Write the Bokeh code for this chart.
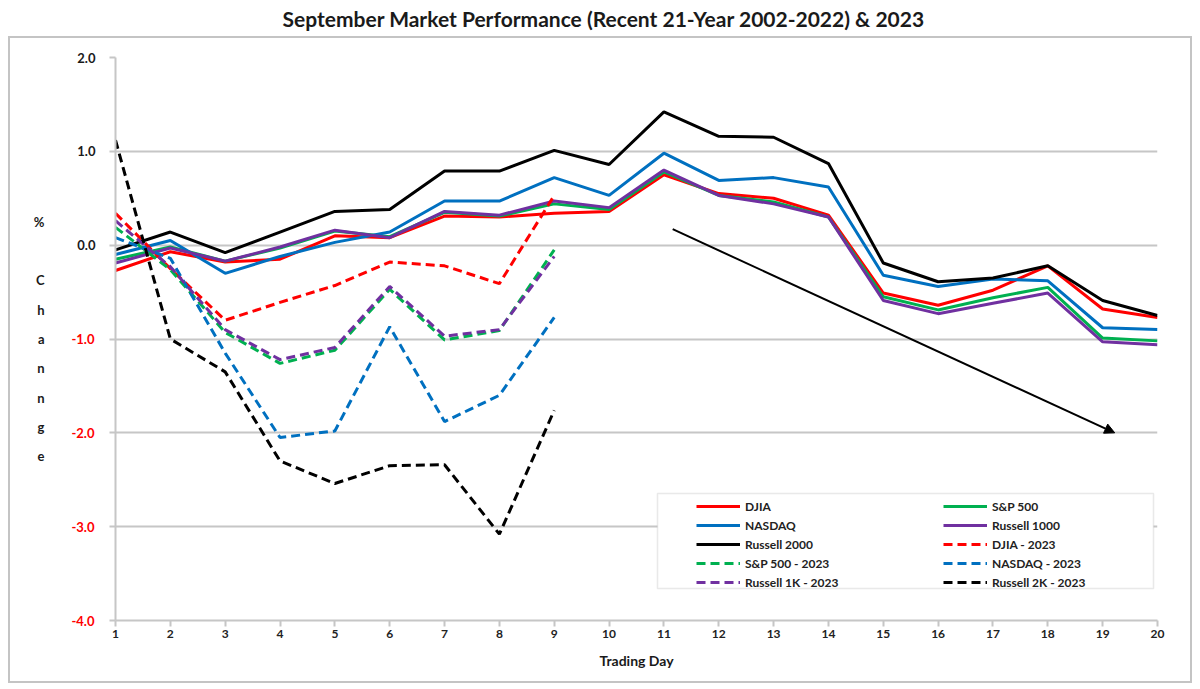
from bokeh.plotting import figure
from bokeh.models import (FixedTicker, LinearAxis, Legend, LegendItem, Arrow, NormalHead,
                          BoxAnnotation, Range1d, NumeralTickFormatter)
from bokeh.embed import file_html
from bokeh.resources import INLINE

# ---------------- data ----------------
title_text = "September Market Performance (Recent 21-Year 2002-2022) & 2023"
x_label = "Trading Day"
y_label = "%\n\nC\nh\na\nn\nn\ng\ne"

days = list(range(1, 21))
days_2023 = list(range(1, 10))

djia = [-0.27, -0.07, -0.18, -0.15, 0.10, 0.08, 0.31, 0.30, 0.34, 0.36,
        0.75, 0.55, 0.50, 0.32, -0.51, -0.64, -0.48, -0.22, -0.68, -0.77]
sp500 = [-0.15, -0.02, -0.17, -0.03, 0.15, 0.09, 0.35, 0.31, 0.44, 0.38,
         0.78, 0.53, 0.46, 0.30, -0.55, -0.69, -0.56, -0.45, -0.99, -1.02]
nasdaq = [-0.10, 0.05, -0.30, -0.12, 0.03, 0.14, 0.47, 0.47, 0.72, 0.53,
          0.98, 0.69, 0.72, 0.62, -0.32, -0.44, -0.36, -0.38, -0.88, -0.90]
russell1000 = [-0.19, -0.03, -0.17, -0.02, 0.16, 0.08, 0.36, 0.32, 0.47, 0.40,
               0.80, 0.53, 0.44, 0.30, -0.59, -0.73, -0.62, -0.51, -1.03, -1.06]
russell2000 = [-0.05, 0.14, -0.08, 0.14, 0.36, 0.38, 0.79, 0.79, 1.01, 0.86,
               1.42, 1.16, 1.15, 0.87, -0.19, -0.39, -0.35, -0.22, -0.59, -0.75]

djia_2023 = [0.34, -0.25, -0.80, -0.61, -0.43, -0.18, -0.22, -0.41, 0.53]
sp500_2023 = [0.19, -0.26, -0.93, -1.26, -1.12, -0.47, -1.01, -0.91, -0.05]
nasdaq_2023 = [0.08, -0.14, -1.15, -2.05, -1.98, -0.87, -1.88, -1.60, -0.77]
russell1k_2023 = [0.26, -0.23, -0.90, -1.22, -1.09, -0.44, -0.97, -0.90, -0.12]
russell2k_2023 = [1.12, -1.00, -1.35, -2.30, -2.54, -2.35, -2.34, -3.08, -1.76]

y_ticks_pos = [0.0, 1.0, 2.0]
y_ticks_neg = [-1.0, -2.0, -3.0, -4.0]

# trend arrow (data coordinates)
arrow_start = (11.16, 0.17)
arrow_end = (19.22, -2.0)

# ---------------- styles ----------------
RED, GREEN, BLUE, PURPLE, BLACK = "#ff0000", "#00b050", "#0070c0", "#7030a0", "#000000"
FONT = "Lato"
GRID = "#c6c6c6"
BORDER = "#c4c4c4"
W, H = 1196, 686

solid = [("DJIA", djia, RED), ("S&P 500", sp500, GREEN), ("NASDAQ", nasdaq, BLUE),
         ("Russell 1000", russell1000, PURPLE), ("Russell 2000", russell2000, BLACK)]
dashed = [("DJIA - 2023", djia_2023, RED), ("S&P 500 - 2023", sp500_2023, GREEN),
          ("NASDAQ - 2023", nasdaq_2023, BLUE), ("Russell 1K - 2023", russell1k_2023, PURPLE),
          ("Russell 2K - 2023", russell2k_2023, BLACK)]

p = figure(width=W, height=H, output_backend="svg", toolbar_location=None,
           x_range=Range1d(1, 20), y_range=Range1d(-4, 2), title=title_text + "\n ",
           min_border_left=115, min_border_right=39, min_border_top=57, min_border_bottom=66)
p.outline_line_color = None
p.border_fill_alpha = 0.0
p.background_fill_color = "white"

# outer chart border (below the title), painted behind the transparent canvas border area
g = f"linear-gradient({BORDER},{BORDER})"
p.styles = {"background": (
    f"{g} 8px 36px / 1184px 2px no-repeat, "
    f"{g} 8px 681px / 1184px 2px no-repeat, "
    f"{g} 8px 36px / 2px 647px no-repeat, "
    f"{g} 1190px 36px / 2px 647px no-repeat, white")}

p.title.align = "left"
p.title.offset = 167
p.title.standoff = 4
p.title.vertical_align = "bottom"
p.title.text_font = FONT
p.title.text_font_size = "21px"
p.title.text_font_style = "bold"
p.title.text_color = "#1a1a1a"

p.xgrid.visible = False
p.ygrid.ticker = FixedTicker(ticks=y_ticks_pos + y_ticks_neg)
p.ygrid.grid_line_color = GRID
p.ygrid.grid_line_width = 2

xa = p.xaxis[0]
xa.ticker = FixedTicker(ticks=days)
xa.axis_label = x_label
xa.axis_line_color = GRID
xa.axis_line_width = 2
xa.major_tick_line_color = GRID
xa.major_tick_line_width = 2
xa.major_tick_out = 6
xa.major_tick_in = 0
xa.minor_tick_line_color = None
xa.major_label_text_font = FONT
xa.major_label_text_font_style = "bold"
xa.major_label_text_font_size = "12px"
xa.major_label_text_color = "#222222"
xa.major_label_standoff = 3
xa.axis_label_text_font = FONT
xa.axis_label_text_font_style = "bold"
xa.axis_label_text_font_size = "14px"
xa.axis_label_text_color = "#1a1a1a"
xa.axis_label_standoff = 11

# inner y axis: line, ticks at every gridline, black labels for 0..2
ya = p.yaxis[0]
ya.ticker = FixedTicker(ticks=y_ticks_pos, minor_ticks=y_ticks_neg)
ya.formatter = NumeralTickFormatter(format="0.0")
ya.axis_line_color = GRID
ya.axis_line_width = 2
ya.major_tick_line_color = GRID
ya.major_tick_line_width = 2
ya.major_tick_out = 6
ya.major_tick_in = 0
ya.minor_tick_line_color = GRID
ya.minor_tick_line_width = 2
ya.minor_tick_out = 6
ya.minor_tick_in = 0
ya.major_label_text_font = FONT
ya.major_label_text_font_style = "bold"
ya.major_label_text_font_size = "13px"
ya.major_label_text_color = "#1a1a1a"
ya.major_label_standoff = 14

# outer y axis: red labels for negative values, pulled in to line up with the black ones
ya2 = LinearAxis(ticker=FixedTicker(ticks=y_ticks_neg),
                 formatter=NumeralTickFormatter(format="0.0"))
ya2.axis_line_color = None
ya2.major_tick_line_color = None
ya2.major_tick_out = 0
ya2.major_tick_in = 0
ya2.minor_tick_line_color = None
ya2.major_label_text_font = FONT
ya2.major_label_text_font_style = "bold"
ya2.major_label_text_font_size = "13px"
ya2.major_label_text_color = "#ff0000"
ya2.major_label_standoff = -20
ya2.axis_label = y_label
ya2.axis_label_orientation = "horizontal"
ya2.axis_label_text_font = FONT
ya2.axis_label_text_font_style = "bold"
ya2.axis_label_text_font_size = "13px"
ya2.axis_label_text_color = "#1a1a1a"
ya2.axis_label_text_line_height = 1.83
ya2.axis_label_standoff = 24
p.add_layout(ya2, "left")

renderers = {}
for name, vals, color in solid:
    renderers[name] = p.line(days, vals, line_color=color, line_width=3)
for name, vals, color in dashed:
    renderers[name] = p.line(days_2023, vals, line_color=color, line_width=3,
                             line_dash="9 5")

p.add_layout(Arrow(end=NormalHead(size=10, fill_color=BLACK, line_color=BLACK),
                   x_start=arrow_start[0], y_start=arrow_start[1],
                   x_end=arrow_end[0], y_end=arrow_end[1],
                   line_color=BLACK, line_width=2))

# legend frame
p.add_layout(BoxAnnotation(left=542, right=1038, bottom=32, top=127,
                           left_units="screen", right_units="screen",
                           bottom_units="screen", top_units="screen",
                           fill_color="white", fill_alpha=1.0,
                           line_color="#b5b5b5", line_width=1.5))

col1 = ["DJIA", "NASDAQ", "Russell 2000", "S&P 500 - 2023", "Russell 1K - 2023"]
col2 = ["S&P 500", "Russell 1000", "DJIA - 2023", "NASDAQ - 2023", "Russell 2K - 2023"]
legend = Legend(items=[LegendItem(label=n, renderers=[renderers[n]]) for n in col1 + col2],
                ncols=2, location=(581, 30), orientation="vertical",
                border_line_color=None, background_fill_alpha=0.0,
                padding=2, spacing=3, margin=0,
                glyph_width=44, glyph_height=16, label_height=16, label_width=195,
                label_standoff=5, label_text_font=FONT, label_text_font_style="bold",
                label_text_font_size="12px", label_text_color="#222222")
p.add_layout(legend)

open("out.html", "w").write(file_html(p, INLINE))
